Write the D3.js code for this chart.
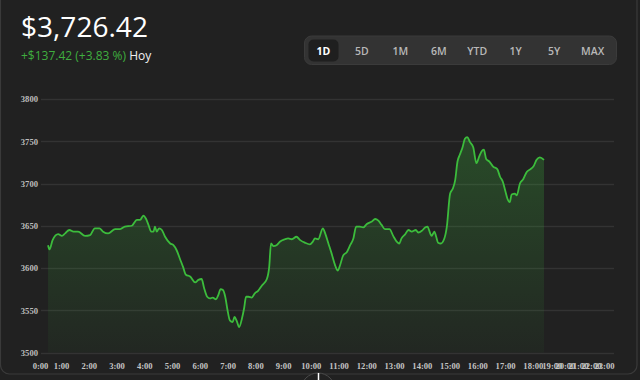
<!DOCTYPE html>
<html><head><meta charset="utf-8">
<script src="https://cdn.jsdelivr.net/npm/d3@7"></script>
<style>
html,body{margin:0;padding:0;background:#212121;}
svg{display:block;}
</style></head>
<body>
<svg id="c" width="640" height="380"></svg>
<script>
// ---- data ----
const priceLabel = "$3,726.42";
const changeLabel = "+$137.42 (+3.83 %)";
const periodLabel = "Hoy";
const ranges = ["1D","5D","1M","6M","YTD","1Y","5Y","MAX"];
const activeRange = "1D";
const yTicks = [3500,3550,3600,3650,3700,3750,3800];
const xTickHours = [0,1,2,3,4,5,6,7,8,9,10,11,12,13,14,15,16,17,18,19,20,21,22,23];
// minutes from midnight
const times = [23,27,36,52,62,69,78,87,97,112,123,133,143,151,162,177,188,198,213,224,231,238,244,249,255,260,263,267,272,278,285,296,303,310,317,324,330,339,350,357,364,369,376,382,388,395,400,405,410,415,420,425,431,435,440,445,451,456,460,465,472,479,486,494,505,510,514,519,526,533,544,551,559,569,577,587,598,604,609,616,626,631,638,645,652,658,663,670,678,685,692,698,706,713,721,732,739,746,753,760,770,778,786,791,796,804,811,818,827,832,840,847,852,858,861,867,871,875,881,888,894,901,907,912,917,922,928,933,938,944,951,958,964,969,974,979,986,994,1003,1009,1015,1020,1025,1030,1034,1041,1045,1052,1059,1067,1075,1081,1088,1095,1104];
const values = [3627,3622,3633,3640,3638,3641,3645,3643,3643,3638,3639,3647,3647,3643,3641,3646,3646,3649,3650,3657,3657,3662,3658,3651,3643,3643,3649,3643,3647,3645,3637,3629,3627,3621,3611,3601,3592,3590,3583,3586,3587,3577,3566,3564,3565,3563,3568,3575,3574,3566,3550,3538,3536,3542,3537,3530,3540,3553,3566,3566,3565,3570,3573,3579,3587,3601,3629,3626,3627,3631,3634,3635,3634,3637,3633,3630,3628,3631,3635,3634,3647,3641,3629,3617,3604,3597,3603,3615,3619,3627,3635,3649,3649,3648,3652,3655,3658,3656,3651,3646,3646,3638,3631,3629,3635,3640,3645,3643,3645,3642,3644,3648,3649,3641,3638,3643,3637,3630,3629,3634,3649,3688,3694,3704,3726,3734,3743,3753,3755,3749,3743,3724,3732,3738,3740,3729,3726,3720,3717,3708,3702,3692,3682,3678,3687,3688,3686,3700,3705,3714,3717,3720,3728,3731,3728];

// ---- layout ----
const svg = d3.select("#c");
const W = 640, H = 380;
const plot = {left: 41, right: 614, top: 99, bottom: 352.5};

svg.append("rect").attr("width",W).attr("height",H).attr("fill","#212121");
// panel border
svg.append("rect").attr("x",0.5).attr("y",-20).attr("width",636.5).attr("height",394)
  .attr("rx",9).attr("fill","none").attr("stroke","#3a3a3a").attr("stroke-width",1.2);

// header
svg.append("text").attr("id","price").attr("x",21).attr("y",37)
  .attr("font-family","'Open Sans', 'Noto Sans', sans-serif").attr("font-weight",500)
  .attr("font-size",30).attr("fill","#ffffff").text(priceLabel);
const pt = document.getElementById("price");
const pw = pt.getComputedTextLength();
pt.setAttribute("font-size", 30*127/pw);

const sub = svg.append("text").attr("x",21).attr("y",59.5)
  .attr("font-family","'Open Sans', 'Noto Sans', sans-serif").attr("font-size",12);
sub.append("tspan").attr("fill","#3fae3f").text(changeLabel);
sub.append("tspan").attr("fill","#f0f0f0").text(" " + periodLabel);

// range buttons
const btnX = d3.scalePoint().domain(ranges).range([323.3, 592.7]);
svg.append("rect").attr("x",304.5).attr("y",36).attr("width",312).attr("height",28.5)
  .attr("rx",7).attr("fill","#333333").attr("stroke","#3b3b3b");
svg.append("rect").attr("x",308.5).attr("y",39.5).attr("width",30).attr("height",22)
  .attr("rx",5).attr("fill","#1f1f1f");
svg.append("g").selectAll("text").data(ranges).join("text")
  .attr("x",d=>btnX(d)).attr("y",54.5).attr("text-anchor","middle")
  .attr("font-family","'Open Sans', 'Noto Sans', sans-serif").attr("font-size",10.5)
  .attr("font-weight",d=>d===activeRange?700:600)
  .attr("fill",d=>d===activeRange?"#ffffff":"#b8b8b8").text(d=>d);

// scales (after-hours labels are compressed past the last trade)
const lastT = times[times.length-1];
const y = d3.scaleLinear().domain([3500,3800]).range([plot.bottom, plot.top]);
const x = d3.scaleLinear().domain([0,60,lastT,1380]).range([40,61,544,604]);

// grid
svg.append("g").selectAll("line").data(yTicks).join("line")
  .attr("x1",plot.left).attr("x2",plot.right)
  .attr("y1",d=>Math.round(y(d))+0.5).attr("y2",d=>Math.round(y(d))+0.5)
  .attr("stroke","#333333").attr("stroke-width",1.3);

// y axis labels
const yAxis = d3.axisLeft(y).tickValues(yTicks).tickSize(0).tickPadding(3).tickFormat(d3.format("d"));
const gy = svg.append("g").attr("transform",`translate(${plot.left},0)`).call(yAxis);
gy.select(".domain").remove();
gy.selectAll("text").attr("font-family","'Liberation Serif', serif").attr("font-weight",700)
  .attr("font-size",8.6).attr("fill","#bdbdbd");

// x axis labels
const xAxis = d3.axisBottom(x).tickValues(xTickHours.map(h=>h*60)).tickSize(0).tickPadding(0)
  .tickFormat(d=>(d/60)+":00");
const gx = svg.append("g").attr("transform",`translate(0,363)`).call(xAxis);
gx.select(".domain").remove();
gx.selectAll("text").attr("font-family","'Liberation Serif', serif").attr("font-weight",700)
  .attr("font-size",8.6).attr("fill","#c4c4c4");

// gradient
const defs = svg.append("defs");
const grad = defs.append("linearGradient").attr("id","g1").attr("x1",0).attr("x2",0)
  .attr("gradientUnits","userSpaceOnUse").attr("y1",y(3760)).attr("y2",y(3500));
grad.append("stop").attr("offset",0).attr("stop-color","#3dbb3d").attr("stop-opacity",0.28);
grad.append("stop").attr("offset",1).attr("stop-color","#3dbb3d").attr("stop-opacity",0.04);

const data = times.map((t,i)=>({t, v: values[i]}));
const area = d3.area().x(d=>x(d.t)).y0(y(3500)).y1(d=>y(d.v)).curve(d3.curveMonotoneX);
const line = d3.line().x(d=>x(d.t)).y(d=>y(d.v)).curve(d3.curveMonotoneX);
svg.append("path").datum(data).attr("d",area).attr("fill","url(#g1)");
svg.append("path").datum(data).attr("d",line).attr("fill","none")
  .attr("stroke","#3cbc3c").attr("stroke-width",1.8).attr("stroke-linejoin","round");

// bottom handle
svg.append("circle").attr("cx",318).attr("cy",390).attr("r",17)
  .attr("fill","#212121").attr("stroke","#4a4a4a").attr("stroke-width",1);
svg.append("line").attr("x1",318.5).attr("x2",318.5).attr("y1",373).attr("y2",381)
  .attr("stroke","#ffffff").attr("stroke-width",1.5);
</script>
</body></html>
